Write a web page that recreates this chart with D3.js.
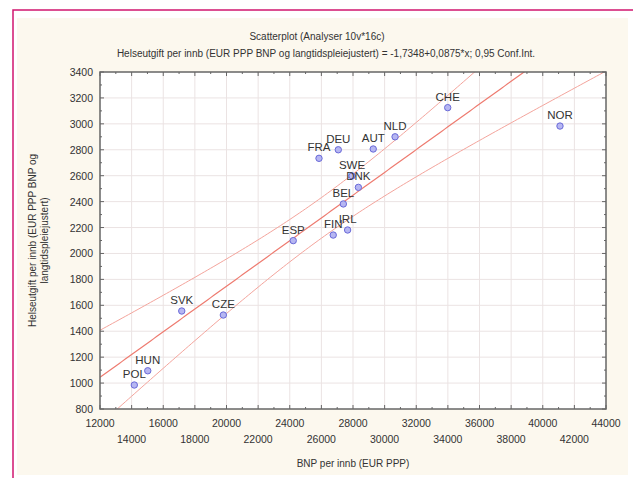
<!DOCTYPE html>
<html>
<head>
<meta charset="utf-8">
<script src="https://cdn.jsdelivr.net/npm/d3@7"></script>
<style>
  body { margin: 0; background: #fff; }
  svg { display: block; font-family: "Liberation Sans", Arial, sans-serif; }
</style>
</head>
<body>
<div id="chart"></div>
<script>
// country codes and values
const countries = ["POL", "HUN", "SVK", "CZE", "ESP", "FIN", "IRL", "BEL", "DNK", "SWE", "FRA", "DEU", "AUT", "NLD", "CHE", "NOR"];
const gdp = [14170, 15020, 17170, 19800, 24220, 26750, 27660, 27390, 28340, 27940, 25850, 27070, 29280, 30660, 33990, 41090];
const spend = [985, 1095, 1556, 1525, 2099, 2142, 2181, 2382, 2510, 2598, 2734, 2800, 2806, 2900, 3125, 2983];

const xTicks = d3.range(12000, 44001, 2000);
const yTicks = d3.range(800, 3401, 200);

const title = "Scatterplot (Analyser 10v*16c)";
const subtitle = "Helseutgift per innb (EUR PPP BNP og langtidspleiejustert) = -1,7348+0,0875*x; 0,95 Conf.Int.";
const xTitle = "BNP per innb (EUR PPP)";
const yTitle = ["Helseutgift per innb (EUR PPP BNP og", "langtidspleiejustert)"];

const width = 633, height = 478;
const margin = {top: 72, left: 100, right: 27, bottom: 69};

var svg = d3.select("#chart").append("svg")
  .attr("width", width)
  .attr("height", height);

// page background + magenta frame
svg.append("rect").attr("x", 17).attr("y", 18).attr("width", 611).attr("height", 457).attr("fill", "#fcf8ee");
svg.append("path")
  .attr("d", "M13,478 L13,10 L633,10")
  .attr("fill", "none").attr("stroke", "#d1166f").attr("stroke-width", 1.5);

var x = d3.scaleLinear().domain([12000, 44000]).range([margin.left, width - margin.right]);
var y = d3.scaleLinear().domain([800, 3400]).range([height - margin.bottom, margin.top]);

var plotW = x.range()[1] - x.range()[0];
var plotH = y.range()[0] - y.range()[1];

svg.append("rect")
  .attr("x", margin.left).attr("y", margin.top)
  .attr("width", plotW).attr("height", plotH)
  .attr("fill", "#fff");

svg.append("clipPath").attr("id", "clip")
  .append("rect").attr("x", margin.left).attr("y", margin.top).attr("width", plotW).attr("height", plotH);

// grid
var grid = svg.append("g").attr("stroke", "#ebe3e3").attr("stroke-width", 1);
grid.selectAll(".gx").data(xTicks.slice(1, -1)).enter().append("line")
  .attr("x1", d => x(d)).attr("x2", d => x(d))
  .attr("y1", margin.top).attr("y2", margin.top + plotH);
grid.selectAll(".gy").data(yTicks.slice(1, -1)).enter().append("line")
  .attr("y1", d => y(d)).attr("y2", d => y(d))
  .attr("x1", margin.left).attr("x2", margin.left + plotW);

// least squares fit + 95% confidence band for the mean
var n = gdp.length;
var mx = d3.mean(gdp), my = d3.mean(spend);
var sxx = d3.sum(gdp, v => (v - mx) * (v - mx));
var sxy = d3.sum(gdp, (v, i) => (v - mx) * (spend[i] - my));
var slope = sxy / sxx;
var intercept = my - slope * mx;
var sse = d3.sum(gdp, (v, i) => Math.pow(spend[i] - (intercept + slope * v), 2));
var s = Math.sqrt(sse / (n - 2));
var tval = 2.1448; // t(0.975, 14)

var xs = d3.range(12000, 44001, 200);
function fit(v) { return intercept + slope * v; }
function half(v) { return tval * s * Math.sqrt(1 / n + (v - mx) * (v - mx) / sxx); }

var line = d3.line().x(d => x(d[0])).y(d => y(d[1]));
var lines = svg.append("g").attr("clip-path", "url(#clip)").attr("fill", "none");
lines.append("path").datum(xs.map(v => [v, fit(v) + half(v)]))
  .attr("d", line).attr("stroke", "#f4a49c").attr("stroke-width", 1);
lines.append("path").datum(xs.map(v => [v, fit(v) - half(v)]))
  .attr("d", line).attr("stroke", "#f4a49c").attr("stroke-width", 1);
lines.append("path").datum(xs.map(v => [v, fit(v)]))
  .attr("d", line).attr("stroke", "#ee7b70").attr("stroke-width", 1.2);

// frame + inner ticks
var frame = svg.append("g").attr("stroke", "#666");
frame.append("rect")
  .attr("x", margin.left).attr("y", margin.top)
  .attr("width", plotW).attr("height", plotH)
  .attr("fill", "none").attr("stroke-width", 1.5);

var xMinor = d3.range(12000, 44001, 1000);
var yMinor = d3.range(800, 3401, 100);
frame.selectAll(".tb").data(xMinor).enter().append("line")
  .attr("x1", d => x(d)).attr("x2", d => x(d))
  .attr("y1", y.range()[0]).attr("y2", d => y.range()[0] - (d % 2000 ? 2 : 4));
frame.selectAll(".tt").data(xMinor).enter().append("line")
  .attr("x1", d => x(d)).attr("x2", d => x(d))
  .attr("y1", margin.top).attr("y2", d => margin.top + (d % 2000 ? 2 : 4));
frame.selectAll(".tl").data(yMinor).enter().append("line")
  .attr("y1", d => y(d)).attr("y2", d => y(d))
  .attr("x1", margin.left).attr("x2", d => margin.left + (d % 200 ? 2 : 4));
frame.selectAll(".tr").data(yMinor).enter().append("line")
  .attr("y1", d => y(d)).attr("y2", d => y(d))
  .attr("x1", margin.left + plotW).attr("x2", d => margin.left + plotW - (d % 200 ? 2 : 4));

// tick labels
svg.append("g").selectAll("text").data(yTicks).enter().append("text")
  .attr("x", margin.left - 7).attr("y", d => y(d) + 4)
  .attr("text-anchor", "end").attr("font-size", 10.5).attr("fill", "#333")
  .text(d => d);

svg.append("g").selectAll("text").data(xTicks).enter().append("text")
  .attr("x", d => x(d))
  .attr("y", (d, i) => i % 2 ? 443 : 427)
  .attr("text-anchor", "middle").attr("font-size", 10.5).attr("fill", "#333")
  .text(d => d);

// points
svg.append("g").selectAll("circle").data(countries).enter().append("circle")
  .attr("cx", (d, i) => x(gdp[i]))
  .attr("cy", (d, i) => y(spend[i]))
  .attr("r", 3.2)
  .attr("fill", "#b6b6f2")
  .attr("stroke", "#6a6ad8")
  .attr("stroke-width", 1);

svg.append("g").selectAll("text").data(countries).enter().append("text")
  .attr("x", (d, i) => x(gdp[i]))
  .attr("y", (d, i) => y(spend[i]) - 7)
  .attr("text-anchor", "middle").attr("font-size", 11.5).attr("fill", "#333")
  .text(d => d);

// titles
svg.append("text").attr("x", 317).attr("y", 40)
  .attr("text-anchor", "middle").attr("font-size", 10).attr("fill", "#333")
  .text(title);
svg.append("text").attr("x", 326).attr("y", 57)
  .attr("text-anchor", "middle").attr("font-size", 10).attr("fill", "#333")
  .text(subtitle);
svg.append("text").attr("x", 353).attr("y", 467)
  .attr("text-anchor", "middle").attr("font-size", 10).attr("fill", "#333")
  .text(xTitle);

var yt = svg.append("text")
  .attr("transform", "translate(36," + (margin.top + plotH / 2) + ") rotate(-90)")
  .attr("text-anchor", "middle").attr("font-size", 10).attr("fill", "#333");
yt.selectAll("tspan").data(yTitle).enter().append("tspan")
  .attr("x", 0).attr("dy", (d, i) => i ? 12 : 0)
  .text(d => d);
</script>
</body>
</html>
